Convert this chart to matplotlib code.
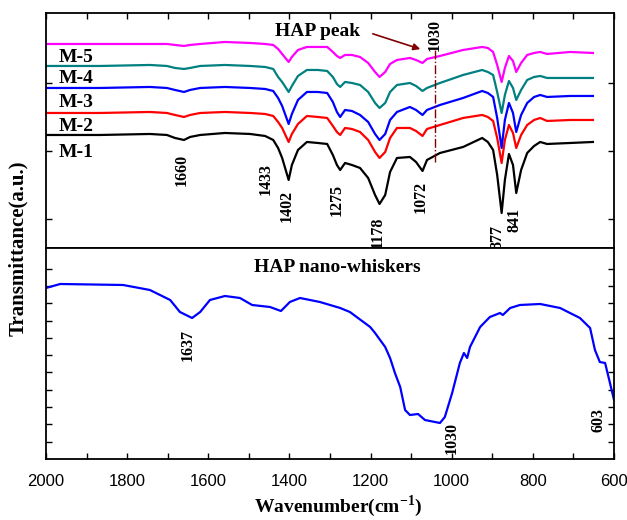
import numpy as np
import matplotlib
matplotlib.use('Agg')
import matplotlib.pyplot as plt
from matplotlib.ticker import MultipleLocator

plt.rcParams['font.family'] = ['Liberation Serif', 'DejaVu Serif']
plt.rcParams['mathtext.fontset'] = 'custom'
plt.rcParams['mathtext.rm'] = 'Liberation Serif'
plt.rcParams['mathtext.bf'] = 'Liberation Serif:bold'

# ---- data (arbitrary units, curves already stacked) ----
wn_top = [2000, 1867, 1744, 1702, 1682, 1660, 1645, 1620, 1559, 1497, 1460, 1440, 1428, 1418,
          1402, 1394, 1379, 1357, 1330, 1307, 1293, 1283, 1275, 1263, 1246, 1226, 1206, 1189,
          1178, 1164, 1152, 1135, 1103, 1088, 1072, 1061, 1029, 972, 925, 911, 898, 888,
          877, 869, 859, 849, 841, 829, 814, 797, 782, 765, 708, 652]
m1 = [113, 113, 114, 113, 110, 108, 111, 113, 115, 114, 112, 108, 100, 90, 68, 83, 98, 106,
      105, 104, 93, 83, 78, 85, 83, 80, 70, 53, 44, 53, 76, 90, 91, 86, 77, 88, 95, 101, 110,
      106, 98, 73, 35, 68, 94, 83, 55, 78, 95, 102, 106, 104, 105, 106]
m2 = [135, 135, 136, 135, 133, 131, 133, 135, 136, 135, 134, 132, 126, 120, 106, 114, 124, 132,
      131, 130, 122, 116, 113, 120, 119, 116, 108, 96, 90, 96, 110, 120, 120, 117, 112, 119,
      123, 130, 133, 131, 127, 110, 85, 108, 123, 115, 100, 113, 123, 128, 130, 127, 128, 128]
m3 = [160, 160, 161, 160, 158, 156, 158, 160, 161, 160, 159, 157, 150, 142, 124, 134, 148, 156,
      156, 155, 146, 136, 131, 138, 137, 133, 126, 114, 108, 114, 128, 136, 141, 138, 133, 138,
      143, 150, 157, 155, 151, 130, 100, 128, 145, 135, 116, 133, 145, 151, 153, 151, 152, 152]
m4 = [182, 182, 183, 182, 180, 179, 180, 182, 183, 182, 181, 179, 171, 166, 156, 162, 172, 178,
      178, 177, 171, 164, 161, 166, 165, 163, 156, 145, 140, 145, 156, 163, 165, 162, 157, 160,
      165, 173, 178, 176, 173, 156, 135, 153, 167, 160, 148, 158, 168, 171, 172, 170, 170, 170]
m5 = [204, 204, 204, 204, 203, 202, 203, 204, 206, 205, 204, 203, 199, 194, 186, 191, 198, 201,
      201, 201, 196, 192, 190, 193, 193, 191, 185, 176, 171, 176, 184, 188, 190, 188, 185, 189,
      192, 198, 201, 200, 196, 183, 166, 180, 192, 187, 176, 185, 193, 195, 196, 194, 196, 195]
sample_names = ['M-1', 'M-2', 'M-3', 'M-4', 'M-5']
sample_colors = ['black', 'red', 'blue', '#008080', 'magenta']
label_y = [95, 121, 145, 169, 190]

top_peaks = ['1660', '1433', '1402', '1275', '1178', '1072', '877', '841']
top_peak_x = [1665, 1458, 1406, 1283, 1182, 1076, 888, 846]
top_peak_y = [78, 69, 42, 48, 16, 51, 11, 28]

wn_hap = [2000, 1965, 1810, 1744, 1694, 1670, 1640, 1620, 1596, 1559, 1522, 1492, 1448, 1421,
          1399, 1374, 1325, 1275, 1251, 1201, 1189, 1164, 1152, 1140, 1127, 1115, 1103, 1083,
          1066, 1029, 1017, 999, 980, 970, 962, 955, 930, 906, 881, 874, 856, 832, 782, 733,
          684, 659, 647, 635, 622, 610, 600]
hap = [171, 175, 174, 169, 159, 147, 141, 147, 159, 163, 161, 154, 152, 148, 157, 161, 157,
       151, 147, 132, 126, 112, 101, 86, 72, 49, 44, 45, 39, 36, 42, 66, 96, 106, 101, 112,
       132, 142, 146, 144, 151, 154, 155, 151, 141, 131, 109, 97, 96, 76, 59]
hap_peaks = ['1637', '1030', '603']
hap_peak_x = [1652, 999, 639]
hap_peak_y = [114, 21, 39]

fig = plt.figure(figsize=(6.27, 5.2), dpi=100)
ax1 = fig.add_axes([0.0734, 0.5231, 0.9059, 0.4510])
ax2 = fig.add_axes([0.0734, 0.1173, 0.9059, 0.4058])

bold = dict(fontweight='bold')

# top panel: stacked composites
for vals, name, c, ly in zip([m1, m2, m3, m4, m5], sample_names, sample_colors, label_y):
    ax1.plot(wn_top, vals, color=c, lw=1.6)
    ax1.text(1968, ly, name, fontsize=14, ha='left', va='center', **bold)
for lab, x, y in zip(top_peaks, top_peak_x, top_peak_y):
    ax1.text(x, y, lab, rotation=90, fontsize=11.5, ha='center', va='center', clip_on=False, **bold)

ax1.text(1330, 216, 'HAP peak', fontsize=14, ha='center', va='center', **bold)
ax1.annotate('', xy=(1071, 198), xytext=(1201, 215),
             arrowprops=dict(arrowstyle='-|>', color='#800000', lw=1.2, mutation_scale=10))
ax1.plot([1041, 1041], [86, 198], color='#800000', lw=1.0, ls='-.')
ax1.text(1041, 213, '1030', rotation=90, fontsize=11.5, ha='center', va='center', **bold)

ax1.set_xlim(2000, 600)
ax1.set_ylim(0, 234.5)
ax1.xaxis.set_major_locator(MultipleLocator(100))
ax1.tick_params(axis='x', which='both', top=True, bottom=False, labelbottom=False,
                direction='in', length=4, width=1)
ax1.set_yticks([29, 97, 165])
ax1.tick_params(axis='y', which='both', left=True, right=True, labelleft=False,
                direction='in', length=4, width=1)

# bottom panel: HAP nano-whiskers
ax2.plot(wn_hap, hap, color='blue', lw=1.6)
ax2.text(1283, 191, 'HAP nano-whiskers', fontsize=14, ha='center', va='center', **bold)
for lab, x, y in zip(hap_peaks, hap_peak_x, hap_peak_y):
    ax2.text(x, y, lab, rotation=90, fontsize=11.5, ha='center', va='center', clip_on=False, **bold)

ax2.set_xlim(2000, 600)
ax2.set_ylim(0, 211)
ax2.xaxis.set_major_locator(MultipleLocator(200))
ax2.xaxis.set_minor_locator(MultipleLocator(100))
ax2.tick_params(axis='x', which='both', top=False, bottom=True, direction='in', length=4,
                width=1, labelsize=12, pad=11)
for t in ax2.get_xticklabels():
    t.set_fontfamily('Liberation Sans')
ax2.set_yticks(np.arange(1, 12) * 17.3)
ax2.tick_params(axis='y', which='both', left=True, right=True, labelleft=False,
                direction='in', length=4, width=1)

for ax in (ax1, ax2):
    for sp in ax.spines.values():
        sp.set_linewidth(1.3)

fig.text(0.0287, 0.523, 'Transmittance(a.u.)', rotation=90, fontsize=15, ha='center',
         va='center', **bold)
fig.text(0.539, 0.027, r'Wavenumber(cm$^{\mathbf{-1}}$)', fontsize=14, ha='center',
         va='center', **bold)

fig.savefig('out.png', dpi=100)
